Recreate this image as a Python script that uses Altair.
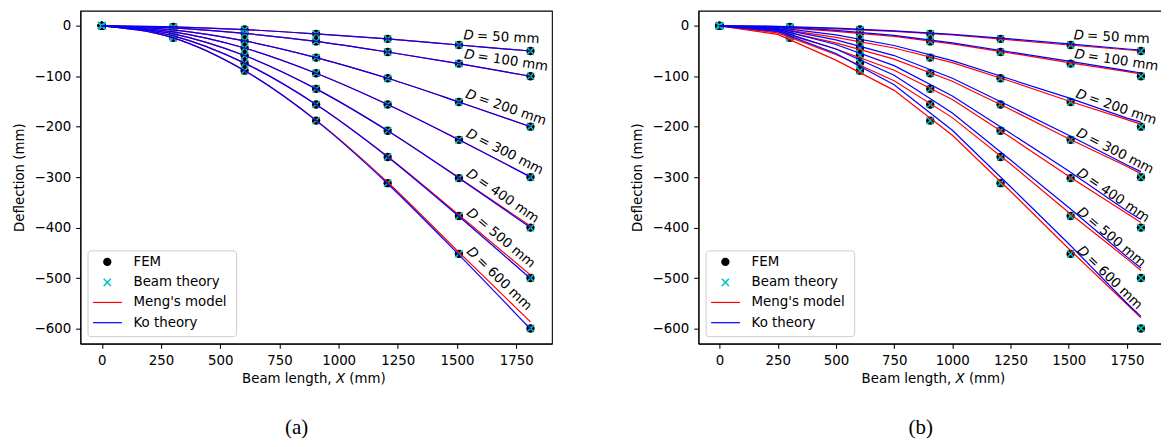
import altair as alt
import pandas as pd

FONT = "DejaVu Sans"
FS = 13.4

# ---------------- data ----------------
diameters = [50, 100, 200, 300, 400, 500, 600]
x_nodes = [0, 302, 603, 905, 1207, 1508, 1810]

fem = {
    50: [0, -2, -7.4, -16, -26, -38, -50],
    100: [0, -4, -15, -31, -52, -75, -100],
    200: [0, -8, -30, -63, -104, -151, -200],
    300: [0, -12, -44, -94, -156, -226, -300],
    400: [0, -16, -59, -125, -208, -302, -400],
    500: [0, -20, -74, -156, -260, -377, -500],
    600: [0, -24, -89, -188, -312, -452, -600],
}
beam_theory = {
    50: [0, -2, -7.4, -16, -26, -38, -50],
    100: [0, -4, -15, -31, -52, -75, -100],
    200: [0, -8, -30, -63, -104, -151, -200],
    300: [0, -12, -44, -94, -156, -226, -300],
    400: [0, -16, -59, -125, -208, -302, -400],
    500: [0, -20, -74, -156, -260, -377, -500],
    600: [0, -24, -89, -188, -312, -452, -600],
}

# panel (a): smooth model curves at the nodes
meng_a = {
    50: [0, -2, -7.4, -16, -26, -38, -50],
    100: [0, -4, -15, -31, -52, -75, -100],
    200: [0, -8, -30, -63, -104, -151, -200],
    300: [0, -12, -44, -94, -156, -226, -299],
    400: [0, -16, -59, -125, -208, -301, -397],
    500: [0, -20, -74, -156, -259, -375, -494],
    600: [0, -24, -89, -187, -310, -449, -587],
}
ko_a = {
    50: [0, -2, -7.4, -16, -26, -38, -50],
    100: [0, -4, -15, -31, -52, -75, -100],
    200: [0, -8, -30, -63, -104, -151, -200],
    300: [0, -12, -44, -94, -156, -226, -300],
    400: [0, -16, -59, -125, -208, -302, -400],
    500: [0, -20, -74, -156, -260, -378, -501],
    600: [0, -24, -89, -188, -313, -454, -601],
}

# panel (b): piecewise model curves
x_b = [0, 250, 500, 750, 1000, 1250, 1500, 1750, 1810]
meng_b = {
    50: [0, -1.5, -6, -11, -18, -28, -38, -47.5, -50],
    100: [0, -2.8, -11, -21, -36, -54, -73, -91, -95.5],
    200: [0, -5.7, -23, -44, -73, -110, -149, -186, -195],
    300: [0, -8.6, -34, -66, -110, -166, -224, -279, -293],
    400: [0, -11.5, -46, -88, -146, -221, -298, -372, -390],
    500: [0, -14, -57, -109, -182, -274, -370, -462, -485],
    600: [0, -17, -68, -128, -217, -328, -442, -552, -579],
}
ko_b = {
    50: [0, -1, -4.6, -10, -17, -26, -36, -46, -48],
    100: [0, -1.8, -9, -19, -34, -52, -70, -89, -93.5],
    200: [0, -3.7, -18, -39, -69, -106, -143, -183, -191],
    300: [0, -5.5, -28, -59, -104, -160, -217, -276, -289],
    400: [0, -7, -37, -79, -139, -213, -288, -367, -384],
    500: [0, -9, -46, -98, -173, -266, -360, -458, -480],
    600: [0, -11, -55, -117, -207, -319, -432, -550, -576],
}

label_angle_deg = [3, 8.5, 19, 27, 34.5, 40, 44]

x_ticks = [0, 250, 500, 750, 1000, 1250, 1500, 1750]
y_ticks = [-600, -500, -400, -300, -200, -100, 0]
legend_labels = ["FEM", "Beam theory", "Meng's model", "Ko theory"]

# ---------------- layout constants ----------------
H = 334
X_DOMAIN = [-90.5, 1900.5]
Y_DOMAIN = [-630, 30]


def long_df(xs, series):
    rows = []
    for d in diameters:
        for xv, v in zip(xs, series[d]):
            rows.append({"x": xv, "v": v, "D": d})
    return pd.DataFrame(rows)


xenc = alt.X("x:Q", scale=alt.Scale(domain=X_DOMAIN, nice=False, zero=False),
             axis=alt.Axis(values=x_ticks, format="d", title=None))
yenc = alt.Y("v:Q", scale=alt.Scale(domain=Y_DOMAIN, nice=False, zero=False),
             axis=alt.Axis(values=y_ticks, title="Deflection (mm)", titlePadding=8))

one = pd.DataFrame({"k": [0]})


def panel(meng, ko, xs_line, interp, caption, cap_x, width, title_shift, label_shift):
    fem_df = long_df(x_nodes, fem)
    beam_df = long_df(x_nodes, beam_theory)
    meng_df = long_df(xs_line, meng)
    ko_df = long_df(xs_line, ko)

    layers = []
    layers.append(alt.Chart(fem_df).mark_point(shape="circle", filled=True, size=70,
                                               color="black", opacity=1)
                  .encode(x=xenc, y=yenc))
    layers.append(alt.Chart(beam_df).mark_point(shape="M-1,-1L1,1M-1,1L1,-1", filled=False,
                                                size=52, color="#00bfbf", strokeWidth=1.5,
                                                opacity=1)
                  .encode(x=xenc, y=yenc))
    layers.append(alt.Chart(meng_df).mark_line(color="#ff0000", strokeWidth=1.2,
                                               interpolate=interp)
                  .encode(x=xenc, y=yenc, detail="D:N"))
    layers.append(alt.Chart(ko_df).mark_line(color="#0000ff", strokeWidth=1.2,
                                             interpolate=interp)
                  .encode(x=xenc, y=yenc, detail="D:N"))

    # D labels
    lab = pd.DataFrame({
        "x": [x_nodes[5]] * len(diameters),
        "v": [fem[d][5] for d in diameters],
        "angle": label_angle_deg,
        "d_txt": ["D"] * len(diameters),
        "rest": [f"= {d} mm" for d in diameters],
    })
    layers.append(alt.Chart(lab).mark_text(align="left", baseline="alphabetic",
                                           dx=4 + label_shift, dy=-6,
                                           font=FONT, fontSize=FS, fontStyle="italic",
                                           color="black")
                  .encode(x=xenc, y=yenc, text="d_txt:N", angle=alt.Angle("angle:Q", scale=None)))
    layers.append(alt.Chart(lab).mark_text(align="left", baseline="alphabetic",
                                           dx=17.5 + label_shift, dy=-6,
                                           font=FONT, fontSize=FS, color="black")
                  .encode(x=xenc, y=yenc, text="rest:N", angle=alt.Angle("angle:Q", scale=None)))

    # x-axis title with italic X
    ty = H + 39.5
    layers.append(alt.Chart(one).mark_text(text="Beam length,", align="right", baseline="alphabetic",
                                           font=FONT, fontSize=FS, color="black")
                  .encode(x=alt.value(252.0 + title_shift), y=alt.value(ty)))
    layers.append(alt.Chart(one).mark_text(text="X", align="left", baseline="alphabetic",
                                           font=FONT, fontSize=FS, fontStyle="italic", color="black")
                  .encode(x=alt.value(256.3 + title_shift), y=alt.value(ty)))
    layers.append(alt.Chart(one).mark_text(text="(mm)", align="left", baseline="alphabetic",
                                           font=FONT, fontSize=FS, color="black")
                  .encode(x=alt.value(269.8 + title_shift), y=alt.value(ty)))

    # legend
    layers.append(alt.Chart(one).mark_rect(fill="white", fillOpacity=0.8, stroke="#cccccc",
                                           strokeWidth=1, cornerRadius=3)
                  .encode(x=alt.value(7.7), x2=alt.value(156.7), y=alt.value(241), y2=alt.value(327)))
    row_y = [252, 272.5, 292.7, 313]
    layers.append(alt.Chart(one).mark_point(shape="circle", filled=True, size=70, color="black",
                                            opacity=1)
                  .encode(x=alt.value(27), y=alt.value(row_y[0])))
    layers.append(alt.Chart(one).mark_point(shape="M-1,-1L1,1M-1,1L1,-1", filled=False, size=52,
                                            color="#00bfbf", strokeWidth=1.5, opacity=1)
                  .encode(x=alt.value(27), y=alt.value(row_y[1])))
    layers.append(alt.Chart(one).mark_rule(color="#ff0000", strokeWidth=1.2)
                  .encode(x=alt.value(12.7), x2=alt.value(41.7), y=alt.value(row_y[2])))
    layers.append(alt.Chart(one).mark_rule(color="#0000ff", strokeWidth=1.2)
                  .encode(x=alt.value(12.7), x2=alt.value(41.7), y=alt.value(row_y[3])))
    for lbl, ry in zip(legend_labels, row_y):
        layers.append(alt.Chart(one).mark_text(text=lbl, align="left", baseline="middle",
                                               font=FONT, fontSize=FS, color="black")
                      .encode(x=alt.value(53.3), y=alt.value(ry)))

    # caption
    layers.append(alt.Chart(one).mark_text(text=caption, align="center", baseline="alphabetic",
                                           font="Liberation Serif", fontSize=21, color="black")
                  .encode(x=alt.value(cap_x), y=alt.value(424.5)))

    return alt.layer(*layers).properties(width=width, height=H)


pa = panel(meng_a, ko_a, x_nodes, "monotone", "(a)", 217, 473, 0, 0)
pb = panel(meng_b, ko_b, x_b, "linear", "(b)", 223, 465, 1.5, -1.5)

chart = (
    alt.hconcat(pa, pb, spacing=76)
    .properties(padding={"left": 2.6, "top": 1, "right": -2, "bottom": 0})
    .configure_view(stroke="black", strokeWidth=1.07)
    .configure_axis(
        grid=False,
        domainColor="black", domainWidth=1.07,
        tickColor="black", tickWidth=1.07, tickSize=4.7,
        labelFont=FONT, labelFontSize=FS, labelColor="black", labelPadding=5,
        titleFont=FONT, titleFontSize=FS, titleFontWeight="normal", titleColor="black",
    )
)

chart.save("out.html", embed_options={"renderer": "svg", "actions": False})
